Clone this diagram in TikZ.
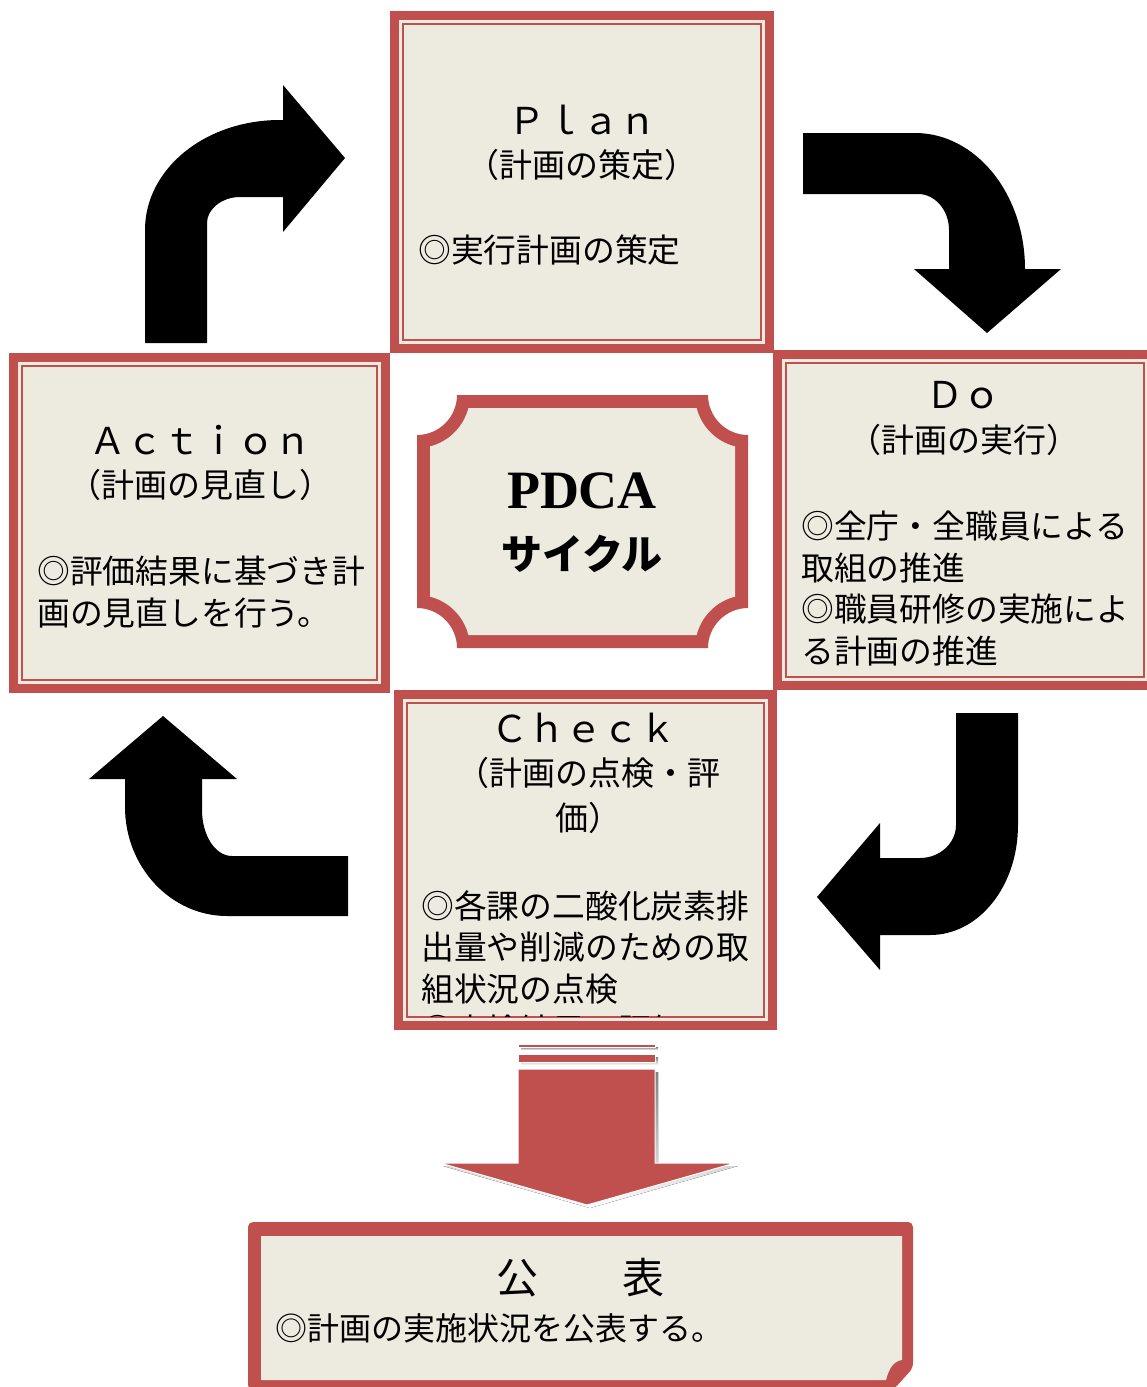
\documentclass[tikz,border=0pt]{standalone}
\usepackage{fontspec}
\newfontfamily\jp{Noto Sans CJK JP}
\newfontfamily\pdcaserif{Liberation Serif}
\definecolor{boxred}{HTML}{C0504D}
\definecolor{cream}{HTML}{EDEAE0}
\definecolor{shade}{HTML}{A88584}
\tikzset{
 framebox/.style={fill=cream, draw=boxred, line width=9pt, inner sep=0pt, outer sep=0pt,
   path picture={\draw[boxred,line width=2pt] ([shift={(8.5pt,-8.5pt)}]path picture bounding box.north west) rectangle ([shift={(-8.5pt,8.5pt)}]path picture bounding box.south east);}},
 headtxt/.style={font=\jp\fontsize{37}{40}\selectfont, inner sep=0pt},
 subtxt/.style={font=\jp\fontsize{33}{45}\selectfont, inner sep=0pt, align=center},
 bodytxt/.style={font=\jp\fontsize{32.8}{41.5}\selectfont, inner sep=0pt, align=left, anchor=north west},
 blockarrow/.style={fill=black},
}
\begin{document}
\begin{tikzpicture}[x=1pt,y=-1pt]
\useasboundingbox (0,0) rectangle (1147,1387);
\fill[white] (0,0) rectangle (1147,1387);

% boxes
\node[framebox, minimum width=372pt, minimum height=331pt] (action) at (199.5,523) {};
\node[framebox, minimum width=375pt, minimum height=331pt] (do) at (965,520) {};
\node[framebox, minimum width=374pt, minimum height=331pt] (check) at (585.5,860) {};
\node[framebox, minimum width=375pt, minimum height=333pt] (plan) at (582,182) {};

% center PDCA plaque
\fill[boxred] (457,395) -- (708,395) .. controls (708,417) and (726,435) .. (748,435)
  -- (748,608) .. controls (726,608) and (708,626) .. (708,648)
  -- (457,648) .. controls (457,626) and (439,608) .. (417,608)
  -- (417,435) .. controls (439,435) and (457,417) .. (457,395) -- cycle;
\fill[cream] (468.4,408) -- (696.6,408) .. controls (701.4,426.9) and (716.1,441.6) .. (735,446.4)
  -- (735,596.6) .. controls (716.1,601.4) and (701.4,616.1) .. (696.6,635)
  -- (468.4,635) .. controls (463.6,616.1) and (448.9,601.4) .. (430,596.6)
  -- (430,446.4) .. controls (448.9,441.6) and (463.6,426.9) .. (468.4,408) -- cycle;
\node[font=\pdcaserif\bfseries\fontsize{54}{60}\selectfont, inner sep=0pt] (pdca) at (582,491) {PDCA};
\node[font=\jp\bfseries\fontsize{41}{45}\selectfont, inner sep=0pt] (cycle) at (582,554) {サイクル};

% black bent arrows
\fill[blockarrow] (145,343) -- (145,230) .. controls (145,169) and (205,120) .. (280,120)
  -- (283,120) -- (283,85) -- (345,158) -- (283,232) -- (283,197) -- (240,197)
  .. controls (222,197) and (207,209) .. (207,223) -- (207,343) -- cycle;
\fill[blockarrow] (803,133) -- (915,133) .. controls (976,133) and (1025,194) .. (1025,269)
  -- (1061,269) -- (987,333) -- (914,269) -- (949,269) -- (949,230)
  .. controls (949,210) and (935,194) .. (918,194) -- (803,194) -- cycle;
\fill[blockarrow] (1018,713) -- (1018,825) .. controls (1018,886) and (979,935) .. (930,935)
  -- (880,935) -- (880,970) -- (817,897) -- (880,823) -- (880,858) -- (920,858)
  .. controls (940,858) and (956,843) .. (956,825) -- (956,713) -- cycle;
\fill[blockarrow] (348,856) -- (232,856) .. controls (215,856) and (202,835) .. (202,810)
  -- (202,779) -- (237,779) -- (163,716) -- (89,779) -- (125,779) -- (125,807)
  .. controls (125,867) and (171,916) .. (227,916) -- (348,916) -- cycle;

% red down arrow with shadow
\begin{scope}[shift={(3,3)}]
\fill[shade] (518,1069) -- (655,1069) -- (655,1163) -- (735,1163) -- (587,1205) -- (440,1163) -- (518,1163) -- cycle;
\fill[shade] (518,1044) rectangle (655,1047);
\fill[shade] (518,1054) rectangle (655,1062);
\end{scope}
\filldraw[fill=boxred, draw=white, line width=1pt] (518,1069) -- (655,1069) -- (655,1163) -- (735,1163) -- (587,1205) -- (440,1163) -- (518,1163) -- cycle;
\filldraw[fill=boxred, draw=white, line width=1pt] (518,1044) rectangle (655,1047);
\filldraw[fill=boxred, draw=white, line width=1pt] (518,1054) rectangle (655,1062);

% publication box
\fill[boxred, rounded corners=5pt] (248,1390) -- (248,1222) -- (913,1222) -- (913,1368) -- (893,1390) -- cycle;
\fill[cream] (261,1236) -- (902,1236) -- (902,1360) .. controls (894,1361) and (889,1368) .. (886,1380) -- (261,1380) -- cycle;
\node[font=\jp\fontsize{42}{46}\selectfont, inner sep=0pt] (pubhead) at (580,1278) {公　　表};
\node[bodytxt, anchor=west, font=\jp\fontsize{32}{40}\selectfont] (pubbody) at (275,1328) {◎計画の実施状況を公表する。};

% Plan texts
\node[headtxt] (planhead) at (582,120) {Ｐｌａｎ};
\node[subtxt] (plansub) at (582,165) {（計画の策定）};
\node[bodytxt, anchor=west] (planbody) at (418,250) {◎実行計画の策定};

% Do texts
\node[headtxt] (dohead) at (963,395) {Ｄｏ};
\node[subtxt] (dosub) at (964,440) {（計画の実行）};
\node[bodytxt] (dobody) at (801,511) {◎全庁・全職員による\\取組の推進\\◎職員研修の実施によ\\る計画の推進};

% Action texts
\node[headtxt] (acthead) at (200,440) {Ａｃｔｉｏｎ};
\node[subtxt] (actsub) at (200,485) {（計画の見直し）};
\node[bodytxt] (actbody) at (37,556) {◎評価結果に基づき計\\画の見直しを行う。};

% Check texts (clipped by inner frame)
\begin{scope}
\clip (408,704) rectangle (763,1016);
\node[headtxt] (chkhead) at (584,728) {Ｃｈｅｃｋ};
\node[subtxt] (chksub) at (588,795) {（計画の点検・評\\価）};
\node[bodytxt] (chkbody) at (421,890) {◎各課の二酸化炭素排\\出量や削減のための取\\組状況の点検\\◎点検結果の評価};
\end{scope}
\end{tikzpicture}
\end{document}
